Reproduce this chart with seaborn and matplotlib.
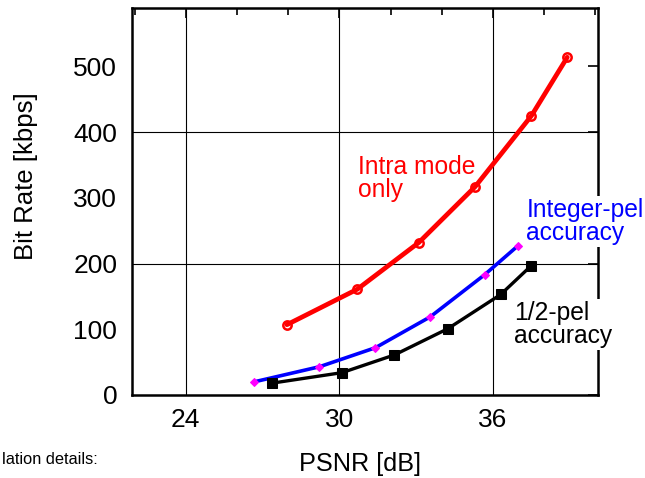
import numpy as np
import pandas as pd
import matplotlib
matplotlib.use("Agg")
import matplotlib.pyplot as plt
from matplotlib.ticker import MultipleLocator
import seaborn as sns

# PSNR [dB] / bit rate [kbps]
intra_psnr = [27.95, 30.7, 33.1, 35.3, 37.5, 38.9]
intra_rate = [107, 161, 232, 317, 425, 514]
int_psnr = [26.67, 29.22, 31.41, 33.55, 35.67, 36.97]
int_rate = [20, 43, 72, 119, 183, 227]
half_psnr = [27.36, 30.1, 32.15, 34.24, 36.3, 37.47]
half_rate = [18, 34, 61, 101, 153, 196]

sns.set_theme(style="white")
plt.rcParams['font.family'] = ['Liberation Sans', 'DejaVu Sans']

fig = plt.figure(figsize=(6.45, 4.78), dpi=100)
ax = fig.add_axes([132/645, 1-395/478, 466/645, 387/478])

df_intra = pd.DataFrame({"psnr": intra_psnr, "rate": intra_rate})
df_int = pd.DataFrame({"psnr": int_psnr, "rate": int_rate})
df_half = pd.DataFrame({"psnr": half_psnr, "rate": half_rate})

sns.lineplot(data=df_intra, x="psnr", y="rate", ax=ax, color="#ff0000", lw=3.4,
             marker="o", markersize=6, markerfacecolor="none",
             markeredgecolor="#ff0000", markeredgewidth=1.8, zorder=3)
sns.lineplot(data=df_int, x="psnr", y="rate", ax=ax, color="#0000ff", lw=2.6,
             marker="D", markersize=4, markerfacecolor="#ff00ff",
             markeredgecolor="#ff00ff", zorder=3)
sns.lineplot(data=df_half, x="psnr", y="rate", ax=ax, color="black", lw=2.4,
             marker="s", markersize=7, markerfacecolor="black",
             markeredgecolor="black", zorder=3)

ax.set_xlim(21.9, 40.1)
ax.set_ylim(0, 589)
ax.xaxis.set_minor_locator(MultipleLocator(2))
ax.yaxis.set_major_locator(MultipleLocator(100))
ax.set_xticks([24, 30, 36])

for x in [24, 30, 36]:
    ax.axvline(x, color="black", lw=0.8, zorder=1)
for y in [200, 400]:
    ax.axhline(y, color="black", lw=0.8, zorder=1)

ax.tick_params(axis="both", which="both", direction="in", top=True, right=True,
               labelsize=19, color="black", labelcolor="black")
ax.tick_params(axis="both", which="major", length=7, width=1.2)
ax.tick_params(axis="x", which="minor", length=5, width=1.2)
ax.tick_params(axis="x", which="major", pad=9.4)
ax.tick_params(axis="y", which="major", pad=10.6)

for s in ax.spines.values():
    s.set_visible(True)
    s.set_color("black")
    s.set_linewidth(1.8)

ax.set_xlabel("PSNR [dB]", fontsize=18.2, color="black")
ax.set_ylabel("Bit Rate [kbps]", fontsize=18.5, color="black")
ax.xaxis.set_label_coords(0.4886, -0.1480)
ax.yaxis.set_label_coords(-0.2017, 0.566)

# baseline alignment on multi-line text goes by the last line
ax.text(30.71, 301, "Intra mode\nonly", color="#ff0000", fontsize=17.7,
        linespacing=0.95, va="baseline", ha="left")
box = dict(facecolor="white", edgecolor="none", pad=1.5)
ax.text(37.3, 236, "Integer-pel\naccuracy", color="#0000ff", fontsize=17.7,
        linespacing=0.95, va="baseline", ha="left", bbox=box, zorder=4)
ax.text(36.82, 79, "1/2-pel\naccuracy", color="black", fontsize=17.7,
        linespacing=0.95, va="baseline", ha="left", bbox=box, zorder=4)

fig.text(1.5/645, 1-464/478, "lation details:", fontsize=11.8, color="black",
         ha="left", va="baseline")

fig.savefig("out.png", dpi=100)
